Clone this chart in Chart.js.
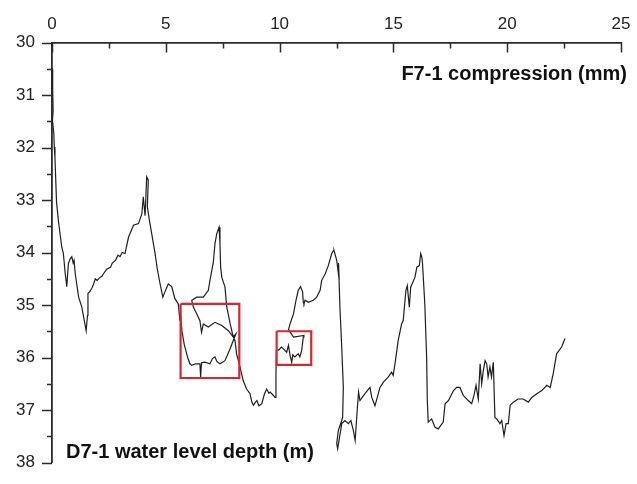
<!DOCTYPE html>
<html><head><meta charset="utf-8">
<script src="https://cdn.jsdelivr.net/npm/chart.js@4/dist/chart.umd.min.js"></script>
<style>html,body{margin:0;padding:0;background:#fff}#wrap{width:637px;height:484px}</style>
</head><body><div id="wrap"><canvas id="c" width="637" height="484"></canvas></div>
<script>
// time-ordered trace: F7-1 compression (mm) vs D7-1 water level depth (m)
const compression = [0.02,0.03,0.05,0.02,0.08,0.1,0.13,0.15,0.2,0.28,0.43,0.5,0.58,0.65,0.72,0.8,0.87,0.93,0.97,1.02,1.17,1.31,1.42,1.5,1.56,1.58,1.65,1.75,1.83,1.9,1.98,2.12,2.2,2.27,2.4,2.57,2.65,2.79,2.9,
2.99,3.08,3.21,3.36,3.58,3.8,3.95,4.01,4.09,4.16,4.23,4.19,4.28,4.38,4.53,4.62,4.75,4.87,4.96,5.11,5.26,5.4,5.55,
5.62,5.64,5.71,5.81,5.96,6.06,6.14,6.31,6.5,6.53,6.57,6.72,6.94,7.05,7.16,7.25,7.38,7.6,7.83,7.96,8.08,
7.96,7.75,7.46,7.16,6.87,6.65,6.57,6.5,6.36,6.21,6.14,
6.36,6.65,6.87,6.94,7.01,7.09,7.16,7.24,7.34,7.38,7.38,7.41,7.46,7.6,7.68,7.83,7.93,8.04,8.11,8.26,8.4,8.55,8.7,8.78,8.85,
8.94,9.0,9.09,9.22,9.33,9.43,9.53,9.58,9.68,9.8,9.84,9.86,
9.98,10.08,10.16,10.31,10.39,10.46,10.53,10.58,10.67,10.82,10.89,10.97,11.04,11.07,10.61,10.39,10.46,10.61,10.72,10.82,10.92,11.01,11.04,11.07,11.12,11.26,11.48,11.63,11.78,11.85,12.0,12.14,12.29,12.36,12.39,12.51,12.62,12.59,12.65,12.73,12.8,12.77,12.73,12.58,12.51,12.55,12.66,12.73,12.87,13.02,13.13,13.24,13.32,13.41,13.47,13.53,13.75,13.97,14.05,14.19,14.41,14.56,14.78,14.92,14.99,15.07,15.21,15.36,15.43,15.55,15.61,15.7,15.76,15.95,16.03,16.14,16.2,16.25,16.28,16.38,16.46,16.49,16.53,16.68,16.83,16.97,17.19,17.27,17.42,17.64,17.78,17.92,18.07,18.29,18.44,18.54,18.63,18.73,18.81,18.88,18.95,19.03,19.1,19.16,19.24,19.31,19.39,19.46,19.54,19.68,19.76,19.86,19.95,20.05,20.13,20.27,20.48,20.7,20.93,21.08,21.3,21.52,21.74,21.89,22.02,22.17,22.39,22.54];
const waterDepth = [30.5,30.9,31.3,31.48,31.73,31.99,32.2,32.44,33.04,33.39,33.9,34.02,34.4,34.65,34.21,34.12,34.08,34.2,34.15,34.4,34.85,35.04,35.3,35.49,35.2,34.78,34.75,34.68,34.6,34.5,34.53,34.47,34.45,34.4,34.32,34.28,34.2,34.15,34.05,34.08,34.0,34.02,33.71,33.48,33.45,33.26,32.94,33.3,32.56,32.62,33.13,33.39,33.64,34.02,34.3,34.6,34.85,34.75,34.6,34.65,34.88,34.98,
35.3,35.15,35.5,35.75,36.0,36.12,36.15,36.12,36.12,36.37,36.1,36.09,36.12,36.02,35.99,36.08,36.12,36.06,35.83,35.68,35.55,
35.61,35.49,35.39,35.33,35.42,35.36,35.52,35.3,35.17,35.04,34.91,
34.85,34.85,34.72,34.53,34.37,34.18,33.83,33.64,33.52,33.6,33.83,34.28,34.47,34.66,35.04,35.36,35.55,35.68,35.93,36.18,36.44,36.6,36.69,36.85,36.91,
36.85,36.82,36.92,36.88,36.7,36.6,36.68,36.66,36.7,36.76,36.3,35.87,
35.85,35.8,35.83,35.9,35.77,35.96,36.09,35.95,35.99,35.93,35.99,35.87,35.61,35.58,35.61,35.47,35.36,35.17,34.91,34.72,34.65,34.75,34.95,34.98,34.91,34.95,34.91,34.85,34.72,34.53,34.41,34.25,34.02,33.97,33.96,34.15,34.53,34.2,35.04,35.8,36.57,37.14,37.2,37.39,37.64,37.74,37.45,37.26,37.2,37.26,37.2,37.39,37.58,37.0,36.66,36.82,36.69,36.57,36.76,36.92,36.57,36.47,36.37,36.28,36.34,36.12,35.68,35.36,35.3,34.72,34.63,35.04,34.66,34.47,34.28,34.25,34.02,34.09,34.21,34.98,35.99,36.82,37.23,37.17,37.33,37.36,37.23,36.88,36.82,36.63,36.57,36.57,36.72,36.82,36.88,36.72,36.53,36.79,36.12,36.5,36.25,36.06,36.12,36.37,36.18,36.37,36.09,37.14,37.17,37.26,37.2,37.49,37.26,37.26,36.91,36.85,36.79,36.79,36.85,36.76,36.69,36.63,36.53,36.57,36.31,35.93,35.8,35.64];
// highlight boxes (data units): [xMin, xMax, yMin, yMax]
const box1 = [5.65, 8.23, 34.98, 36.39];
const box2 = [9.87, 11.39, 35.5, 36.14];
const xTicks = [0,5,10,15,20,25];
const yTicks = [30,31,32,33,34,35,36,37,38];
const xLabel = 'F7-1 compression (mm)';
const yLabel = 'D7-1 water level depth (m)';

const trace = compression.map((x,i)=>({x:x,y:waterDepth[i]}));
function rect(b){return [{x:b[0],y:b[2]},{x:b[1],y:b[2]},{x:b[1],y:b[3]},{x:b[0],y:b[3]},{x:b[0],y:b[2]}];}

const AX = '#2a2a2a';
const extras = {
  id:'extras',
  afterDraw(chart){
    const ctx = chart.ctx, xs = chart.scales.x, ys = chart.scales.y, a = chart.chartArea;
    ctx.save();
    ctx.strokeStyle = AX; ctx.lineWidth = 1.5;
    for(let v=0; v<=25.001; v+=2.5){
      const px = Math.round(xs.getPixelForValue(v))+0.5;
      const major = Math.abs(v%5)<1e-6;
      ctx.beginPath(); ctx.moveTo(px,a.top); ctx.lineTo(px,a.top+(major?10:6)); ctx.stroke();
    }
    for(let v=30; v<=38.001; v+=0.5){
      const py = Math.round(ys.getPixelForValue(v))+0.5;
      const major = Math.abs(v%1)<1e-6;
      ctx.beginPath(); ctx.moveTo(a.left,py); ctx.lineTo(a.left-(major?10:5),py); ctx.stroke();
    }
    ctx.fillStyle = '#111';
    ctx.font = 'bold 20px "Liberation Sans", Arial, sans-serif';
    ctx.textBaseline = 'middle';
    ctx.textAlign = 'right';
    ctx.fillText(xLabel, 627, 74);
    ctx.textAlign = 'left';
    ctx.fillText(yLabel, 66, 452);
    ctx.restore();
  }
};

new Chart(document.getElementById('c'), {
  type:'scatter',
  data:{datasets:[
    {data:trace, showLine:true, borderColor:'#1e1e1e', borderWidth:1.2, pointRadius:0, tension:0, order:2},
    {data:rect(box1), showLine:true, borderColor:'#d9262a', borderWidth:2.2, pointRadius:0, order:1},
    {data:rect(box2), showLine:true, borderColor:'#d9262a', borderWidth:2.2, pointRadius:0, order:1}
  ]},
  options:{
    responsive:false, animation:false, devicePixelRatio:1,
    layout:{padding:{left:0,top:0,right:16,bottom:21.5}},
    plugins:{legend:{display:false}, tooltip:{enabled:false}},
    scales:{
      x:{type:'linear', position:'top', min:0, max:25,
        afterBuildTicks(s){ s.ticks = xTicks.map(v=>({value:v})); },
        afterFit(s){ s.height = 42.5; s.paddingLeft = 0; s.paddingRight = 0; s.paddingTop = 0; s.paddingBottom = 0; },
        grid:{display:false, drawTicks:false},
        border:{display:true, color:AX, width:1.8},
        ticks:{padding:8, color:'#222', font:{family:'"Liberation Sans", Arial, sans-serif', size:17}, maxRotation:0}
      },
      y:{type:'linear', reverse:true, min:30, max:38,
        afterBuildTicks(s){ s.ticks = yTicks.map(v=>({value:v})); },
        afterFit(s){ s.width = 52; s.paddingLeft = 0; s.paddingRight = 0; s.paddingTop = 0; s.paddingBottom = 0; },
        grid:{display:false, drawTicks:false},
        border:{display:true, color:AX, width:1.8},
        ticks:{padding:17, color:'#222', font:{family:'"Liberation Sans", Arial, sans-serif', size:17}}
      }
    }
  },
  plugins:[extras]
});
</script></body></html>
